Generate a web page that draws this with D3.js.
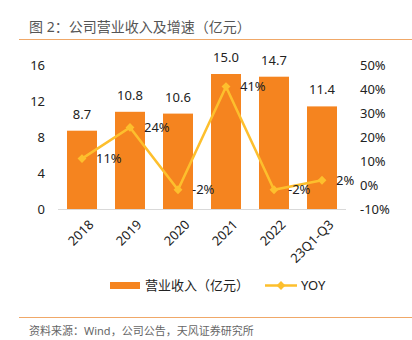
<!DOCTYPE html>
<html>
<head>
<meta charset="utf-8">
<script src="https://cdn.jsdelivr.net/npm/d3@7"></script>
<style>
  body { margin: 0; background: #fff; }
  svg text { font-family: "Noto Sans", "Noto Sans CJK SC", sans-serif; }
</style>
</head>
<body>
<div id="chart"></div>
<script>
const categories = ["2018", "2019", "2020", "2021", "2022", "23Q1-Q3"];
const revenue = [8.7, 10.8, 10.6, 15.0, 14.7, 11.4];
const yoy = [11, 24, -2, 41, -2, 2];
const leftTicks = [0, 4, 8, 12, 16];
const rightTicks = [-10, 0, 10, 20, 30, 40, 50];

const W = 412, H = 340;
const barColor = "#F5841F", lineColor = "#FDBF2D", textColor = "#222";

const svg = d3.select("#chart").append("svg")
    .attr("width", W)
    .attr("height", H);

// Title and rules
svg.append("text")
    .attr("x", 29).attr("y", 32)
    .attr("font-size", 14).attr("fill", "#555")
    .text("图 2：公司营业收入及增速（亿元）");
svg.append("line").attr("x1", 19).attr("x2", 412).attr("y1", 39.5).attr("y2", 39.5)
    .attr("stroke", "#F0A868").attr("stroke-width", 1.2);
svg.append("line").attr("x1", 19).attr("x2", 412).attr("y1", 317.5).attr("y2", 317.5)
    .attr("stroke", "#F0A868").attr("stroke-width", 1.2);
svg.append("text")
    .attr("x", 29).attr("y", 335)
    .attr("font-size", 11).attr("fill", "#666")
    .text("资料来源：Wind，公司公告，天风证券研究所");

// Scales
let x = d3.scaleBand().domain(categories).range([58, 346]).paddingInner(0.375).paddingOuter(0.1875);
let y = d3.scaleLinear().domain([0, 16]).range([209, 65]);
let y2 = d3.scaleLinear().domain([-10, 50]).range([209, 65]);

// Left axis
svg.append("g")
    .attr("transform", "translate(45,0)")
    .call(d3.axisLeft(y).tickValues(leftTicks).tickSize(0).tickPadding(0))
    .call(g => g.select(".domain").remove())
    .selectAll("text").attr("font-size", 13).attr("fill", textColor);

// Right axis
svg.append("g")
    .attr("transform", "translate(360,0)")
    .call(d3.axisRight(y2).tickValues(rightTicks).tickSize(0).tickPadding(0).tickFormat(d => d + "%"))
    .call(g => g.select(".domain").remove())
    .selectAll("text").attr("font-size", 13).attr("fill", textColor);

// Bars
svg.selectAll(".bar")
    .data(revenue)
    .enter()
    .append("rect")
    .attr("class", "bar")
    .attr("x", (d, i) => x(categories[i]))
    .attr("width", x.bandwidth())
    .attr("y", d => y(d))
    .attr("height", d => y(0) - y(d))
    .attr("fill", barColor);

svg.selectAll(".barlabel")
    .data(revenue)
    .enter()
    .append("text")
    .attr("x", (d, i) => x(categories[i]) + x.bandwidth() / 2)
    .attr("y", d => y(d) - 12)
    .attr("text-anchor", "middle")
    .attr("font-size", 13).attr("fill", textColor)
    .text(d => d.toFixed(1));

// Bottom axis
svg.append("line").attr("x1", 58).attr("x2", 346).attr("y1", 209.5).attr("y2", 209.5)
    .attr("stroke", "#D9D9D9").attr("stroke-width", 1);

svg.selectAll(".xlabel")
    .data(categories)
    .enter()
    .append("text")
    .attr("transform", d => `translate(${x(d) + x.bandwidth() / 2 + 6},${219}) rotate(-45)`)
    .attr("text-anchor", "end")
    .attr("dy", "0.7em")
    .attr("font-size", 13).attr("fill", textColor)
    .text(d => d);

// YOY line
const cx = (i) => x(categories[i]) + x.bandwidth() / 2;
const line = d3.line().x((d, i) => cx(i)).y(d => y2(d));
svg.append("path")
    .datum(yoy)
    .attr("d", line)
    .attr("fill", "none")
    .attr("stroke", lineColor)
    .attr("stroke-width", 2.5);

const diamond = d3.symbol().type(d3.symbolDiamond2).size(50);
svg.selectAll(".pt")
    .data(yoy)
    .enter()
    .append("path")
    .attr("d", diamond)
    .attr("transform", (d, i) => `translate(${cx(i)},${y2(d)})`)
    .attr("fill", lineColor);

svg.selectAll(".yoylabel")
    .data(yoy)
    .enter()
    .append("text")
    .attr("x", (d, i) => cx(i) + 14)
    .attr("y", d => y2(d))
    .attr("dy", "0.35em")
    .attr("font-size", 13).attr("fill", textColor)
    .text(d => d + "%");

// Legend
svg.append("rect").attr("x", 110).attr("y", 282).attr("width", 30).attr("height", 7).attr("fill", barColor);
svg.append("text").attr("x", 145).attr("y", 290).attr("font-size", 13).attr("fill", textColor)
    .text("营业收入（亿元）");
svg.append("line").attr("x1", 265).attr("x2", 297).attr("y1", 285.5).attr("y2", 285.5)
    .attr("stroke", lineColor).attr("stroke-width", 2.5);
svg.append("path").attr("d", diamond).attr("transform", "translate(281,285.5)").attr("fill", lineColor);
svg.append("text").attr("x", 301).attr("y", 290).attr("font-size", 13).attr("fill", textColor)
    .text("YOY");
</script>
</body>
</html>
